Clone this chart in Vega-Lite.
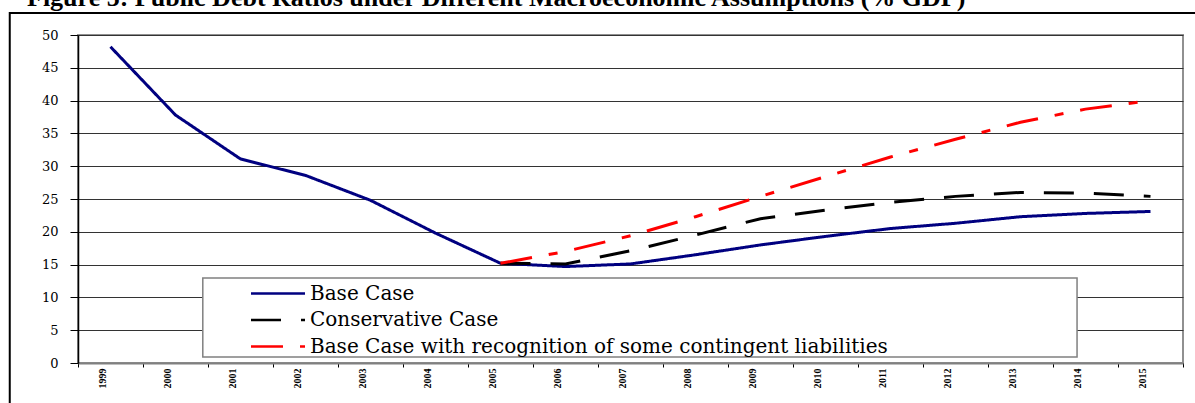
{
  "$schema": "https://vega.github.io/schema/vega-lite/v6.json",
  "width": 1105,
  "height": 328,
  "autosize": {"type": "none"},
  "padding": {"left": 78, "top": 35, "right": 12, "bottom": 40},
  "background": "white",
  "title": {
    "text": "Figure 5: Public Debt Ratios under Different Macroeconomic Assumptions (% GDP)",
    "anchor": "start",
    "frame": "group",
    "dx": -51,
    "dy": 25,
    "font": "Liberation Serif",
    "fontSize": 26,
    "fontWeight": "bold",
    "baseline": "alphabetic",
    "offset": 5,
    "color": "black"
  },
  "config": {
    "view": {"stroke": "#909090", "strokeWidth": 2},
    "axisX": {"labelAngle": -90}
  },
  "resolve": {"axis": {"x": "independent", "y": "independent"}},
  "datasets": {
    "debt": [
      {"year": 1999, "series": "Base Case", "value": 48.2},
      {"year": 2000, "series": "Base Case", "value": 37.8},
      {"year": 2001, "series": "Base Case", "value": 31.1},
      {"year": 2002, "series": "Base Case", "value": 28.6},
      {"year": 2003, "series": "Base Case", "value": 24.8},
      {"year": 2004, "series": "Base Case", "value": 19.8},
      {"year": 2005, "series": "Base Case", "value": 15.2},
      {"year": 2006, "series": "Base Case", "value": 14.7},
      {"year": 2007, "series": "Base Case", "value": 15.1},
      {"year": 2008, "series": "Base Case", "value": 16.5},
      {"year": 2009, "series": "Base Case", "value": 18.0},
      {"year": 2010, "series": "Base Case", "value": 19.3},
      {"year": 2011, "series": "Base Case", "value": 20.5},
      {"year": 2012, "series": "Base Case", "value": 21.3},
      {"year": 2013, "series": "Base Case", "value": 22.3},
      {"year": 2014, "series": "Base Case", "value": 22.8},
      {"year": 2015, "series": "Base Case", "value": 23.1},
      {"year": 2005, "series": "Conservative Case", "value": 15.2},
      {"year": 2006, "series": "Conservative Case", "value": 15.1},
      {"year": 2007, "series": "Conservative Case", "value": 17.1},
      {"year": 2008, "series": "Conservative Case", "value": 19.5},
      {"year": 2009, "series": "Conservative Case", "value": 22.0},
      {"year": 2010, "series": "Conservative Case", "value": 23.3},
      {"year": 2011, "series": "Conservative Case", "value": 24.5},
      {"year": 2012, "series": "Conservative Case", "value": 25.4},
      {"year": 2013, "series": "Conservative Case", "value": 26.0},
      {"year": 2014, "series": "Conservative Case", "value": 25.9},
      {"year": 2015, "series": "Conservative Case", "value": 25.4},
      {"year": 2005, "series": "Base Case with recognition of some contingent liabilities", "value": 15.2},
      {"year": 2006, "series": "Base Case with recognition of some contingent liabilities", "value": 17.0},
      {"year": 2007, "series": "Base Case with recognition of some contingent liabilities", "value": 19.4},
      {"year": 2008, "series": "Base Case with recognition of some contingent liabilities", "value": 22.3},
      {"year": 2009, "series": "Base Case with recognition of some contingent liabilities", "value": 25.4},
      {"year": 2010, "series": "Base Case with recognition of some contingent liabilities", "value": 28.4},
      {"year": 2011, "series": "Base Case with recognition of some contingent liabilities", "value": 31.4},
      {"year": 2012, "series": "Base Case with recognition of some contingent liabilities", "value": 34.1},
      {"year": 2013, "series": "Base Case with recognition of some contingent liabilities", "value": 36.7},
      {"year": 2014, "series": "Base Case with recognition of some contingent liabilities", "value": 38.7},
      {"year": 2015, "series": "Base Case with recognition of some contingent liabilities", "value": 40.0}
    ]
  },
  "layer": [
    {
      "data": {"name": "debt"},
      "mark": {"type": "line", "strokeWidth": 3, "strokeCap": "butt"},
      "encoding": {
        "x": {
          "field": "year",
          "type": "quantitative",
          "scale": {"domain": [1998.5, 2015.5], "nice": false, "zero": false},
          "axis": {
            "values": [1998.5, 1999.5, 2000.5, 2001.5, 2002.5, 2003.5, 2004.5, 2005.5, 2006.5, 2007.5, 2008.5, 2009.5, 2010.5, 2011.5, 2012.5, 2013.5, 2014.5, 2015.5],
            "labelExpr": "datum.value < 2015 ? format(datum.value + 0.5, 'd') : ''",
            "labelAngle": -90,
            "labelAlign": "right",
            "labelBaseline": "middle",
            "labelOffset": 24,
            "labelFont": "Liberation Serif",
            "labelFontSize": 10,
            "labelFontWeight": "bold",
            "labelColor": "black",
            "labelPadding": 1,
            "labelOverlap": false,
            "labelFlush": false,
            "labelBound": false,
            "tickSize": 4,
            "tickColor": "black",
            "domainColor": "#808080",
            "domainWidth": 2,
            "grid": false,
            "title": null
          }
        },
        "y": {
          "field": "value",
          "type": "quantitative",
          "scale": {"domain": [0, 50], "nice": false},
          "axis": {
            "values": [0, 5, 10, 15, 20, 25, 30, 35, 40, 45, 50],
            "grid": true,
            "gridColor": "#333333",
            "gridWidth": 1,
            "tickSize": 8,
            "tickColor": "black",
            "domainColor": "black",
            "domainWidth": 1.5,
            "labelFont": "DejaVu Serif",
            "labelFontSize": 13,
            "labelColor": "black",
            "labelPadding": 12,
            "labelOverlap": false,
            "title": null
          }
        },
        "color": {
          "field": "series",
          "type": "nominal",
          "scale": {
            "domain": ["Base Case", "Conservative Case", "Base Case with recognition of some contingent liabilities"],
            "range": ["#000080", "#000000", "#ff0000"]
          },
          "legend": {
            "orient": "none",
            "legendX": 189.5,
            "legendY": 248,
            "title": null,
            "padding": 0,
            "symbolType": "M-3,0H3",
            "symbolSize": 324,
            "symbolStrokeWidth": 2.5,
            "symbolOffset": 0,
            "labelOffset": 21.5,
            "labelFont": "DejaVu Serif",
            "labelFontSize": 20,
            "labelLimit": 0,
            "labelColor": "black",
            "rowPadding": 5.5
          }
        },
        "strokeDash": {
          "field": "series",
          "type": "nominal",
          "scale": {
            "domain": ["Base Case", "Conservative Case", "Base Case with recognition of some contingent liabilities"],
            "range": [[1, 0], [30, 20], [32, 17, 9, 17]]
          },
          "legend": {
            "orient": "none",
            "legendX": 189.5,
            "legendY": 248,
            "title": null,
            "padding": 0,
            "symbolType": "M-3,0H3",
            "symbolSize": 324,
            "symbolStrokeWidth": 2.5,
            "symbolOffset": 0,
            "labelOffset": 21.5,
            "labelFont": "DejaVu Serif",
            "labelFontSize": 20,
            "labelLimit": 0,
            "labelColor": "black",
            "rowPadding": 5.5
          }
        }
      }
    },
    {
      "data": {"values": [{}]},
      "mark": {"type": "rect", "filled": false, "stroke": "black", "strokeWidth": 2},
      "encoding": {
        "x": {"datum": 1997.45, "type": "quantitative", "axis": null},
        "x2": {"datum": 2016.6},
        "y": {"datum": 53.35, "type": "quantitative", "axis": null},
        "y2": {"datum": -10}
      }
    },
    {
      "data": {"values": [{}]},
      "mark": {"type": "rect", "fill": "white", "stroke": "#808080", "strokeWidth": 1.5},
      "encoding": {
        "x": {"datum": 2000.42, "type": "quantitative", "axis": null},
        "x2": {"datum": 2013.87},
        "y": {"datum": 12.96, "type": "quantitative", "axis": null},
        "y2": {"datum": 0.915}
      }
    }
  ]
}
